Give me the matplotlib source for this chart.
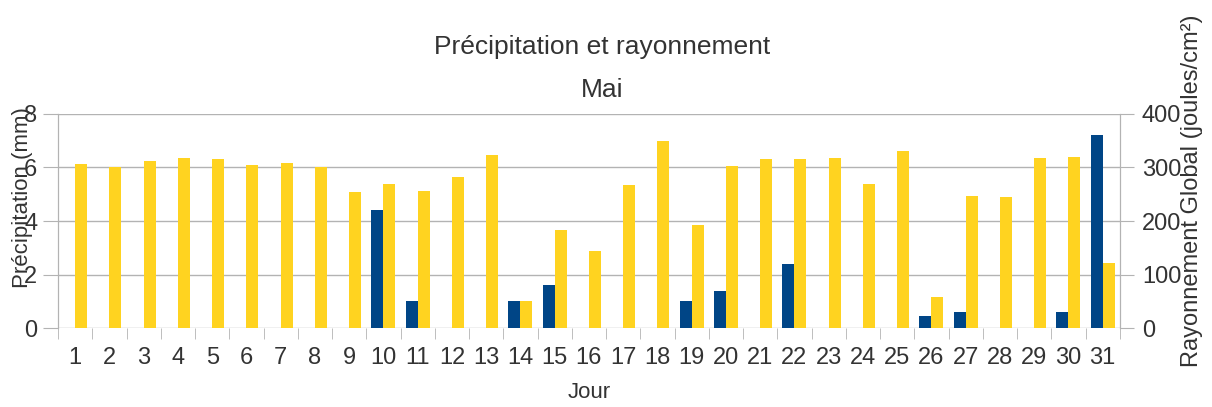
import matplotlib
matplotlib.use("Agg")
import matplotlib.pyplot as plt
import numpy as np

plt.rcParams['font.family'] = ['Liberation Sans', 'DejaVu Sans']

# jours du mois de mai
jours = list(range(1, 32))
# précipitation (mm), 0 = pas de pluie
precip = [0, 0, 0, 0, 0, 0, 0, 0, 0, 4.4, 1.0, 0, 0, 1.0, 1.6, 0,
          0, 0, 1.0, 1.4, 0, 2.4, 0, 0, 0, 0.45, 0.6, 0, 0, 0.6, 7.2]
# rayonnement global (joules/cm²)
rayon = [306, 300, 313, 317, 316, 305, 308, 300, 254, 270, 256, 282,
         324, 51, 184, 144, 268, 349, 193, 302, 315, 315, 318, 270,
         331, 58, 247, 245, 318, 320, 122]

bleu = '#004586'
jaune = '#ffd320'
gris_txt = '#333333'
gris_ligne = '#b3b3b3'

fig = plt.figure(figsize=(12.12, 4.07), dpi=100)
ax1 = fig.add_axes([0.0479, 0.194, 0.876, 0.526])  # [left, bottom, width, height]
ax2 = ax1.twinx()

x = np.array(jours)
w = 0.35
ax1.bar(x - w, precip, width=w, align='edge', color=bleu, zorder=3)
ax2.bar(x, rayon, width=w, align='edge', color=jaune, zorder=3)

ax1.set_xlim(0.5, 31.5)
ax1.set_ylim(0, 8)
ax2.set_ylim(0, 400)
ax1.set_yticks([0, 2, 4, 6, 8])
ax2.set_yticks([0, 100, 200, 300, 400])

ax1.set_xticks(x)
ax1.set_xticklabels([str(j) for j in jours])
ax1.set_xticks(np.arange(0.5, 32, 1), minor=True)
ax1.tick_params(axis='x', which='major', length=0, pad=14, labelsize=17, labelcolor=gris_txt)
ax1.tick_params(axis='x', which='minor', length=8, color=gris_ligne, direction='out')
ax1.tick_params(axis='y', length=11, color=gris_ligne, pad=4, labelsize=17, labelcolor=gris_txt)
ax2.tick_params(axis='y', length=10, color=gris_ligne, pad=6, labelsize=17, labelcolor=gris_txt)

ax1.grid(True, axis='y', color=gris_ligne, linewidth=1.0, zorder=0)
ax1.set_axisbelow(True)
for ax in (ax1, ax2):
    for s in ax.spines.values():
        s.set_visible(False)
    ax.spines['left'].set_visible(True)
    ax.spines['right'].set_visible(True)
    ax.spines['left'].set_color(gris_ligne)
    ax.spines['right'].set_color(gris_ligne)

ax1.set_xlabel('Jour', fontsize=16, color=gris_txt, va='center')
ax1.xaxis.set_label_coords(0.5, -0.30)
ax1.set_ylabel('Précipitation (mm)', fontsize=16, color=gris_txt)
ax1.yaxis.set_label_coords(-0.024, 0.61)
ax2.set_ylabel('Rayonnement Global (joules/cm²)', fontsize=17, color=gris_txt)
ax2.yaxis.set_label_coords(1.058, 0.64)

fig.text(0.497, 0.885, 'Précipitation et rayonnement', ha='center', va='center',
         fontsize=19, color=gris_txt)
fig.text(0.497, 0.779, 'Mai', ha='center', va='center', fontsize=19, color=gris_txt)

fig.savefig('out.png', dpi=100)
